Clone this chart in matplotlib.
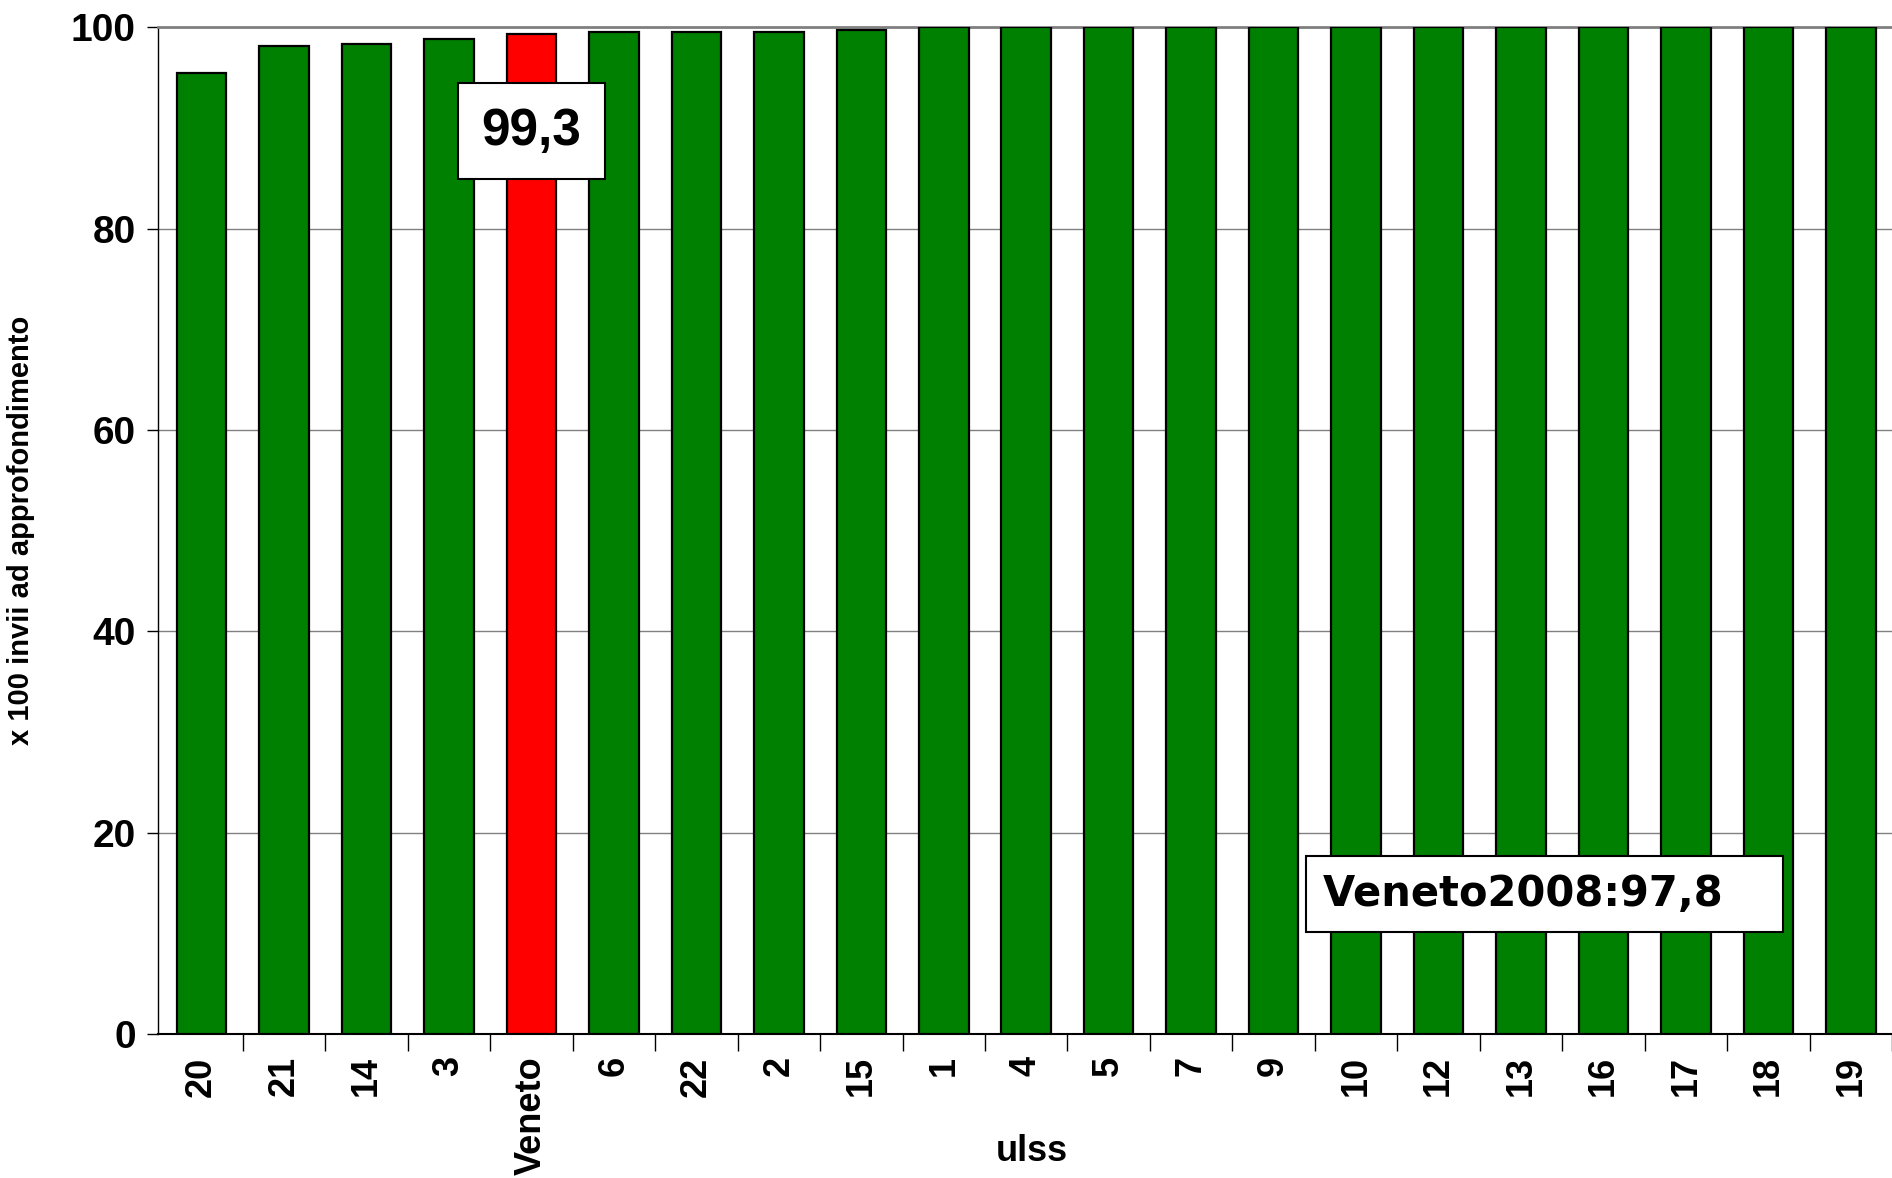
import numpy as np
import matplotlib
matplotlib.use('Agg')
import matplotlib.pyplot as plt

# dati: % invii ad approfondimento per ulss
ulss = ['20', '21', '14', '3', 'Veneto', '6', '22', '2', '15', '1', '4', '5',
        '7', '9', '10', '12', '13', '16', '17', '18', '19']
valori = [95.5, 98.1, 98.3, 98.8, 99.3, 99.5, 99.5, 99.5, 99.7, 100, 100, 100,
          100, 100, 100, 100, 100, 100, 100, 100, 100]
valore_veneto = '99,3'
testo_2008 = 'Veneto2008:97,8'

plt.rcParams['font.family'] = ['Liberation Sans', 'DejaVu Sans']

fig = plt.figure(figsize=(18.92, 11.78), dpi=100)
ax = fig.add_axes([0.0835, 0.1222, 0.9165, 0.8546])

x = np.arange(len(ulss))
colori = ['#FF0000' if u == 'Veneto' else '#008000' for u in ulss]
ax.bar(x, valori, width=0.6, color=colori, edgecolor='black', linewidth=1.6, zorder=3)

ax.set_ylim(0, 100)
ax.set_xlim(-0.53, 20.36)
ax.set_yticks([0, 20, 40, 60, 80, 100])
ax.yaxis.grid(True, color='#808080', linewidth=1.0, zorder=0)
ax.tick_params(axis='y', labelsize=28, length=8, width=1, direction='out', pad=8)
for t in ax.get_yticklabels():
    t.set_fontweight('bold')

ax.set_xticks(x)
ax.set_xticklabels(ulss, rotation=90, fontsize=26, fontweight='bold', va='top')
ax.tick_params(axis='x', length=0, pad=16)
ax.set_xticks(np.arange(len(ulss)) + 0.5, minor=True)
ax.tick_params(axis='x', which='minor', length=12, width=1, color='black')

ax.spines['right'].set_visible(False)
ax.spines['top'].set_color('#808080')
ax.spines['top'].set_linewidth(2)
ax.spines['left'].set_linewidth(1)
ax.spines['bottom'].set_linewidth(1.5)

ax.set_ylabel('x 100 invii ad approfondimento', fontsize=21, fontweight='bold')
ax.yaxis.set_label_coords(-0.071, 0.5)
ax.text(0.504, -0.117, 'ulss', transform=ax.transAxes, fontsize=26, fontweight='bold',
        ha='center', va='center')

i_ven = ulss.index('Veneto')
ax.text(i_ven, 89.7, valore_veneto, fontsize=37, fontweight='bold', ha='center', va='center',
        zorder=5, bbox=dict(boxstyle='square,pad=0.45', facecolor='white', edgecolor='black', linewidth=1.5))

ax.text(13.6, 13.9, testo_2008 + '   ', fontsize=30, fontweight='bold', family='DejaVu Sans',
        ha='left', va='center', zorder=5,
        bbox=dict(boxstyle='square,pad=0.4', facecolor='white', edgecolor='black', linewidth=1.5))

fig.savefig('out.png', dpi=100)
